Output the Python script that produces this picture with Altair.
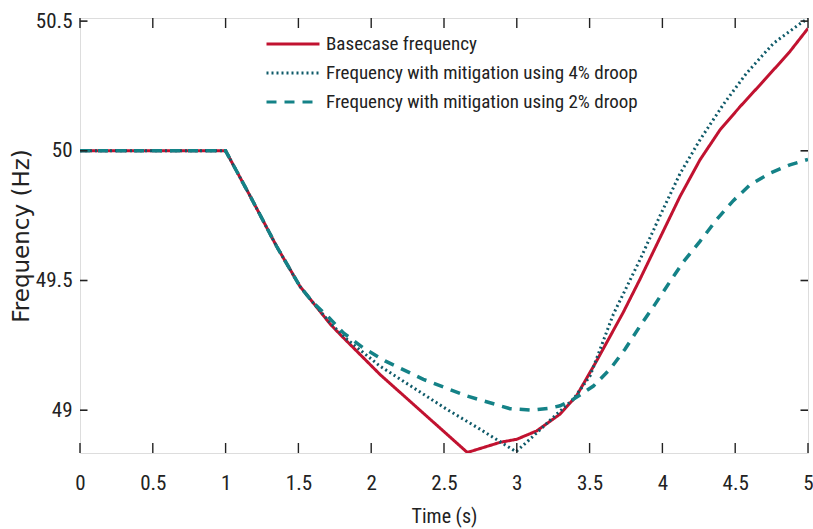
import altair as alt
import pandas as pd

# ---- data ----
common_t = [0.0, 1.0, 1.17, 1.35, 1.51, 1.6]
common_f = [50.0, 50.0, 49.824, 49.632, 49.478, 49.415]

base_t = [1.72, 1.79, 2.06, 2.66, 2.885, 3.0, 3.136, 3.297, 3.41, 3.548, 3.73,
          3.846, 3.984, 4.121, 4.258, 4.396, 4.533, 4.67, 4.784, 4.876, 5.0]
base_f = [49.331, 49.29, 49.138, 48.837, 48.876, 48.888, 48.92, 48.985, 49.055,
          49.19, 49.376, 49.505, 49.665, 49.824, 49.965, 50.081, 50.17, 50.254,
          50.325, 50.383, 50.472]

d4_t = [1.72, 1.83, 2.06, 2.289, 2.518, 2.747, 2.995, 3.113, 3.274, 3.388, 3.503,
        3.663, 3.846, 3.984, 4.121, 4.258, 4.42, 4.579, 4.762, 4.945, 5.0]
d4_f = [49.335, 49.275, 49.17, 49.087, 49.004, 48.927, 48.84, 48.9, 48.985,
        49.042, 49.132, 49.37, 49.58, 49.75, 49.912, 50.042, 50.18, 50.3,
        50.414, 50.49, 50.51]

d2_t = [1.705, 1.809, 1.946, 2.095, 2.358, 2.656, 2.953, 3.102, 3.228, 3.297,
        3.388, 3.526, 3.64, 3.743, 3.846, 3.949, 4.063, 4.144, 4.258, 4.373,
        4.487, 4.602, 4.739, 4.876, 5.0]
d2_f = [49.36, 49.298, 49.24, 49.19, 49.119, 49.055, 49.006, 49.0, 49.008,
        49.017, 49.042, 49.093, 49.158, 49.235, 49.324, 49.408, 49.505, 49.572,
        49.651, 49.735, 49.808, 49.869, 49.914, 49.946, 49.967]

series_names = ["Basecase frequency",
                "Frequency with mitigation using 4% droop",
                "Frequency with mitigation using 2% droop"]
series_colors = ["#C11230", "#0F5A69", "#148287"]
series_dash = [[1, 0], [2, 3], [10, 8]]

x_ticks = [0, 0.5, 1, 1.5, 2, 2.5, 3, 3.5, 4, 4.5, 5]
y_ticks = [49, 49.5, 50, 50.5]

rows = []
for name, ts, fs in zip(series_names, [base_t, d4_t, d2_t], [base_f, d4_f, d2_f]):
    for t, f in zip(common_t + ts, common_f + fs):
        rows.append({"series": name, "t": t, "f": f})
df = pd.DataFrame(rows)

W, H = 728, 435
XDOM = [0, 5]
YDOM = [48.835, 50.512]
NARROW = "Liberation Sans Narrow, Roboto Condensed, Arial Narrow, Roboto"
INK = "#222222"

xscale = alt.Scale(domain=XDOM, nice=False, zero=False)
yscale = alt.Scale(domain=YDOM, nice=False, zero=False)

leg = alt.Legend(title=None, orient="none", legendX=185, legendY=16,
                 symbolType="stroke", symbolSize=2809,
                 symbolStrokeWidth=3, clipHeight=20,
                 rowPadding=9, padding=0, labelOffset=5,
                 labelFont=NARROW, labelFontSize=19,
                 labelColor=INK, labelLimit=400)
color_enc = alt.Color("series:N", scale=alt.Scale(domain=series_names, range=series_colors),
                      legend=leg)
dash_enc = alt.StrokeDash("series:N", scale=alt.Scale(domain=series_names, range=series_dash),
                          legend=leg)

x_axis = alt.Axis(values=x_ticks, format="~g", tickSize=0, domain=False, grid=False,
                  labelFlush=False, labelOverlap=False,
                  labelFont=NARROW, labelFontSize=21, labelColor=INK, labelPadding=19,
                  title="Time (s)", titleFont=NARROW,
                  titleFontSize=20, titleFontWeight="normal", titleColor=INK,
                  titleBaseline="alphabetic", titleY=69)
y_axis = alt.Axis(values=y_ticks, format="~g", tickSize=0, domain=False, grid=False,
                  labelFlush=False, labelOverlap=False,
                  labelFont=NARROW, labelFontSize=21, labelColor=INK, labelPadding=8,
                  title="Frequency (Hz)", titleFont="DejaVu Sans",
                  titleFontSize=23, titleFontWeight="normal", titleColor=INK,
                  titleBaseline="alphabetic", titleX=-51.5, titleAngle=270)

layers = []
for name, w in zip(series_names, [3, 3, 3.5]):
    layers.append(
        alt.Chart(df).transform_filter(alt.datum.series == name)
        .mark_line(strokeWidth=w, clip=True)
        .encode(x=alt.X("t:Q", scale=xscale, axis=x_axis),
                y=alt.Y("f:Q", scale=yscale, axis=y_axis),
                color=color_enc, strokeDash=dash_enc)
    )

xt = pd.DataFrame({"t": x_ticks})
yt = pd.DataFrame({"f": y_ticks})
tick_layers = [
    alt.Chart(xt).mark_rule(color=INK, strokeWidth=1.4).encode(
        x=alt.X("t:Q", scale=xscale, axis=x_axis), y=alt.value(H), y2=alt.value(H - 10)),
    alt.Chart(xt).mark_rule(color=INK, strokeWidth=1.4).encode(
        x=alt.X("t:Q", scale=xscale, axis=x_axis), y=alt.value(0), y2=alt.value(10)),
    alt.Chart(yt).mark_rule(color=INK, strokeWidth=1.6).encode(
        y=alt.Y("f:Q", scale=yscale, axis=y_axis), x=alt.value(0), x2=alt.value(7.5)),
    alt.Chart(yt).mark_rule(color=INK, strokeWidth=1.6).encode(
        y=alt.Y("f:Q", scale=yscale, axis=y_axis), x=alt.value(W), x2=alt.value(W - 7.5)),
]

chart = alt.layer(*layers, *tick_layers).properties(
    width=W, height=H,
    autosize=alt.AutoSizeParams(type="none"),
    padding={"left": 80, "top": 18, "right": 5, "bottom": 76},
).configure_view(stroke=INK, strokeWidth=2).configure(background="white")

chart.save("out.html", embed_options={"renderer": "svg", "actions": False})
